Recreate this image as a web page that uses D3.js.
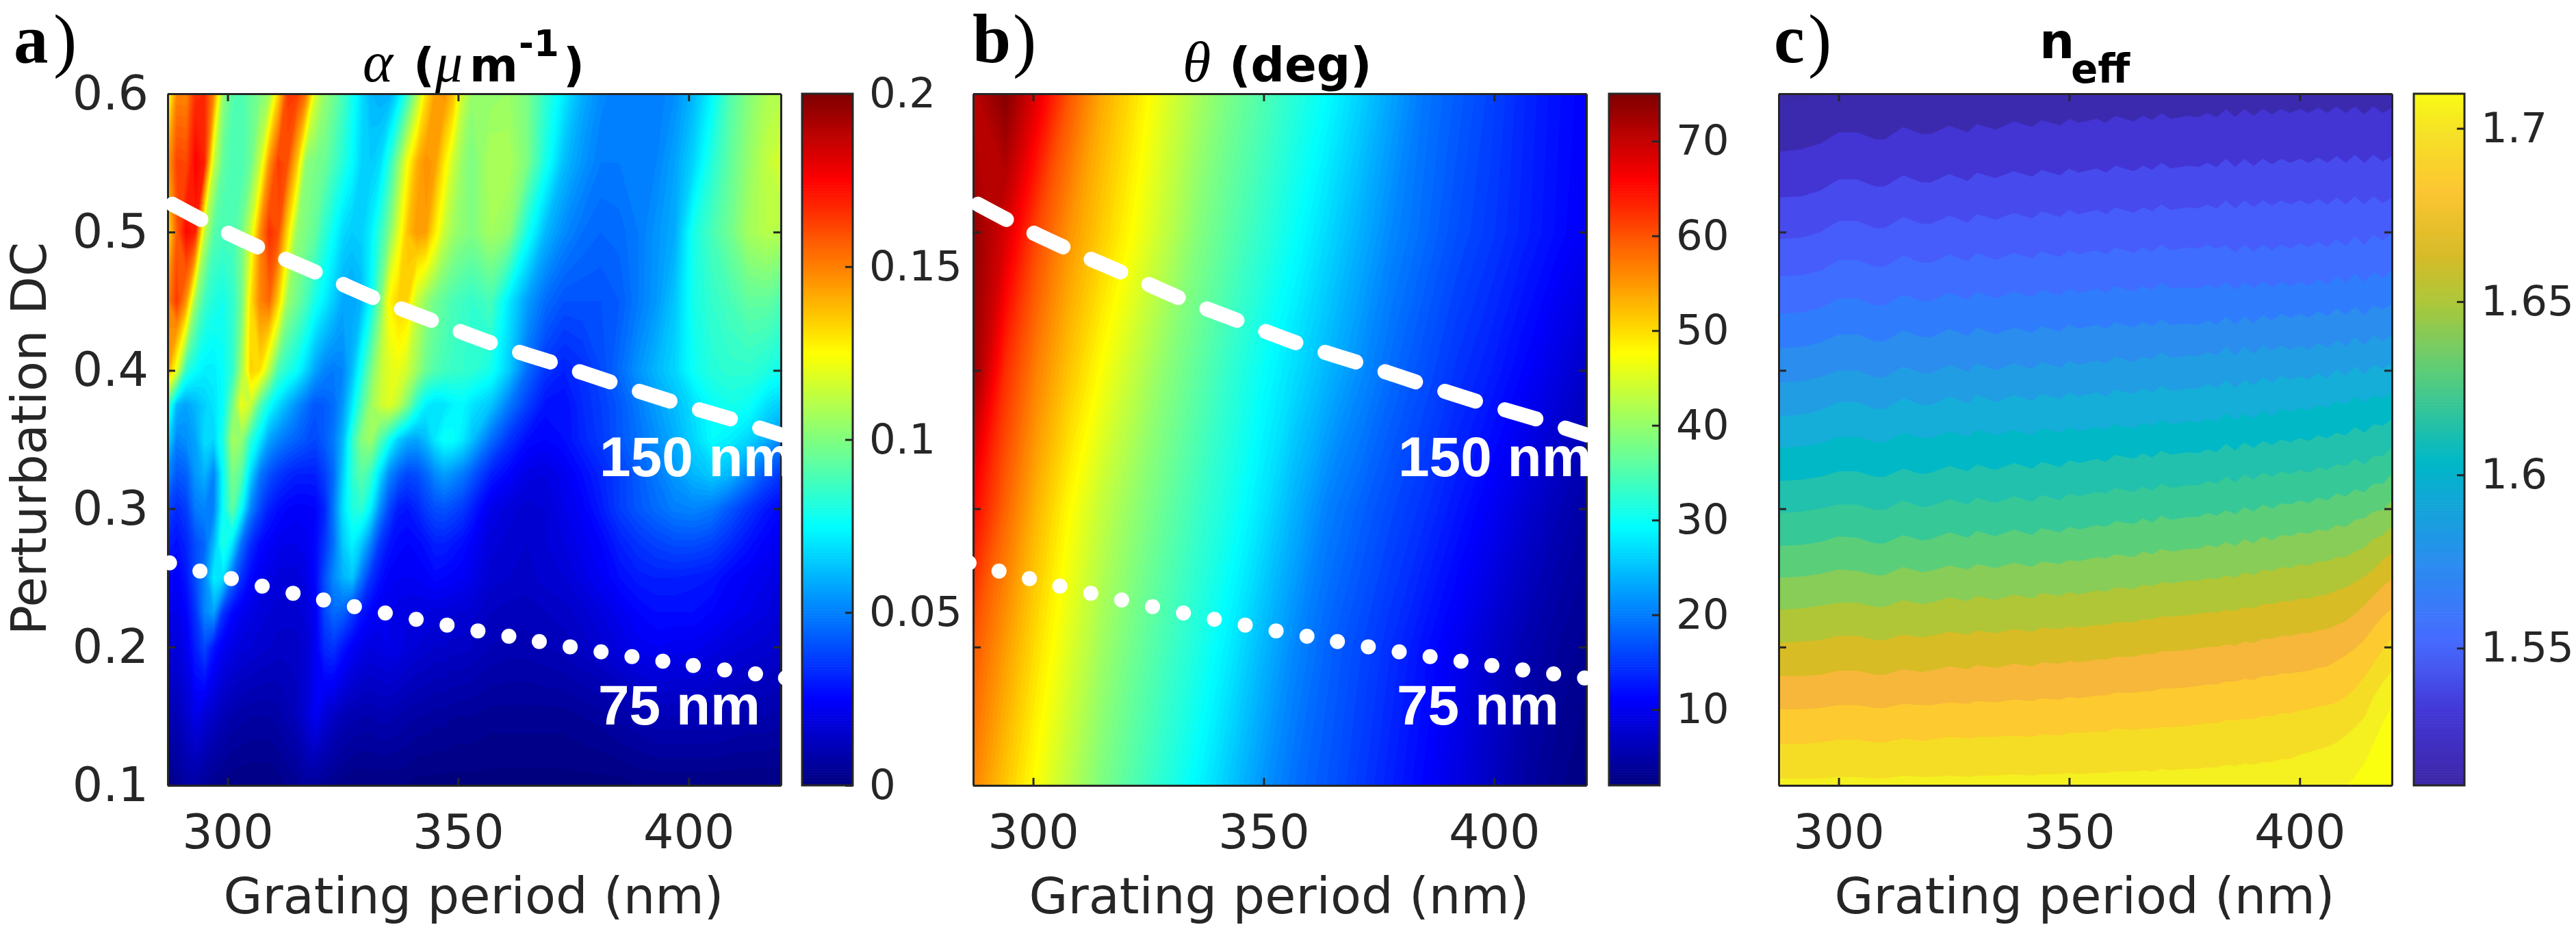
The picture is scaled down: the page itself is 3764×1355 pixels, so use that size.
<!DOCTYPE html>
<html lang="en">
<head>
<meta charset="utf-8">
<title>Grating maps</title>
<script src="https://d3js.org/d3.v7.min.js"></script>
<style>
  body { margin: 0; background: #fff; }
  text { font-family: "DejaVu Sans", sans-serif; fill: #262626; }
</style>
</head>
<body>
<script>
// --- values ---
var xTicks = [300, 350, 400];
var yTicks = [0.1, 0.2, 0.3, 0.4, 0.5, 0.6];
var alphaTicks = [0, 0.05, 0.1, 0.15, 0.2];
var alphaTickLabels = ["0", "0.05", "0.1", "0.15", "0.2"];
var thetaTicks = [10, 20, 30, 40, 50, 60, 70];
var neffTicks = [1.55, 1.6, 1.65, 1.7];
var neffTickLabels = ["1.55", "1.6", "1.65", "1.7"];

// panel a: alpha, one row per DC, columns every 2 nm up to 353 nm then every 4 nm
var alphaPeriods = d3.range(287, 354, 2).concat(d3.range(357, 422, 4));
var alphaDC = [0.6, 0.55, 0.5, 0.45, 0.4, 0.375, 0.35, 0.325, 0.3, 0.275, 0.25, 0.225, 0.2, 0.15, 0.1];
var alphaRows = [
  [.122,.15,.15,.167,.168,.15,.105,.093,.09,.096,.1,.107,.135,.165,.165,.153,.118,.105,.098,.09,.08,.07,.062,.06,.06,.07,.087,.108,.132,.145,.148,.138,.115,.105, .105,.106,.1,.085,.072,.06,.053,.05,.05,.05,.054,.062,.075,.092,.102,.11,.112],
  [.145,.163,.162,.176,.17,.115,.095,.09,.09,.097,.115,.147,.165,.16,.138,.103,.1,.097,.09,.083,.076,.068,.066,.069,.083,.103,.125,.141,.148,.145,.13,.115,.105,.1, .11,.11,.1,.08,.063,.055,.05,.05,.05,.052,.058,.068,.083,.095,.105,.114,.12],
  [.13,.158,.175,.17,.113,.093,.09,.09,.098,.117,.148,.167,.161,.133,.105,.1,.095,.085,.077,.069,.066,.067,.073,.085,.1,.12,.138,.146,.145,.13,.115,.107,.103,.101, .108,.104,.08,.062,.053,.048,.046,.047,.05,.055,.06,.08,.09,.098,.108,.112,.11],
  [.15,.165,.147,.105,.088,.082,.08,.085,.098,.132,.15,.156,.135,.106,.098,.09,.08,.073,.066,.059,.058,.062,.076,.098,.127,.135,.134,.115,.105,.098,.094,.09,.088,.086, .09,.072,.057,.047,.042,.042,.042,.044,.05,.056,.065,.08,.086,.09,.095,.095,.09],
  [.145,.12,.085,.077,.073,.073,.077,.085,.108,.135,.132,.112,.09,.083,.077,.068,.058,.052,.05,.052,.063,.08,.098,.113,.12,.122,.116,.107,.097,.092,.089,.087,.086,.085, .08,.066,.047,.036,.032,.035,.04,.047,.055,.062,.068,.078,.083,.085,.085,.082,.078],
  [.09,.062,.058,.062,.067,.071,.077,.098,.123,.115,.092,.078,.069,.061,.054,.048,.043,.044,.047,.056,.072,.09,.106,.115,.12,.113,.1,.084,.073,.07,.071,.074,.075,.071, .065,.05,.038,.029,.028,.034,.038,.043,.05,.057,.063,.07,.077,.08,.078,.07,.065],
  [.07,.052,.054,.058,.07,.068,.082,.108,.105,.085,.072,.058,.052,.048,.045,.042,.04,.044,.05,.062,.085,.102,.107,.093,.08,.067,.06,.058,.063,.072,.078,.077,.072,.064, .048,.036,.028,.026,.028,.033,.037,.043,.048,.054,.06,.068,.076,.073,.068,.06,.05],
  [.053,.043,.045,.056,.061,.052,.077,.1,.093,.068,.05,.042,.037,.034,.032,.032,.032,.038,.047,.066,.085,.094,.087,.07,.053,.045,.04,.041,.046,.053,.057,.054,.05,.044, .032,.026,.021,.02,.023,.028,.033,.038,.044,.05,.056,.062,.066,.062,.052,.042,.035],
  [.04,.034,.038,.05,.052,.052,.078,.095,.077,.052,.04,.032,.028,.026,.025,.025,.026,.033,.05,.07,.082,.085,.074,.054,.04,.031,.03,.033,.038,.041,.042,.04,.037,.032, .022,.019,.017,.018,.022,.025,.031,.038,.043,.047,.051,.052,.05,.043,.036,.03,.026],
  [.032,.029,.033,.041,.046,.062,.083,.072,.048,.035,.028,.025,.023,.022,.022,.023,.027,.036,.048,.066,.074,.066,.052,.037,.03,.027,.026,.027,.029,.032,.032,.03,.028,.025, .019,.017,.016,.018,.02,.023,.026,.032,.036,.039,.041,.041,.039,.034,.029,.025,.022],
  [.026,.025,.03,.041,.052,.073,.07,.048,.035,.027,.023,.021,.019,.019,.019,.021,.027,.041,.053,.061,.065,.049,.036,.029,.025,.024,.024,.024,.025,.027,.026,.025,.024,.022, .017,.016,.015,.017,.018,.021,.024,.028,.031,.032,.032,.031,.03,.026,.024,.022,.019],
  [.022,.022,.026,.036,.052,.058,.036,.027,.023,.021,.019,.018,.017,.017,.017,.019,.024,.04,.047,.045,.038,.03,.026,.023,.022,.021,.02,.02,.02,.019,.019,.018,.018,.017, .014,.013,.013,.014,.015,.017,.02,.023,.026,.028,.028,.028,.026,.024,.022,.02,.017],
  [.018,.019,.023,.032,.04,.03,.024,.021,.019,.018,.017,.016,.015,.015,.015,.017,.024,.034,.036,.03,.025,.022,.02,.021,.022,.021,.019,.018,.017,.016,.016,.015,.015,.014, .012,.011,.011,.012,.013,.015,.017,.02,.023,.024,.023,.023,.021,.019,.018,.017,.015],
  [.01,.012,.016,.022,.018,.015,.012,.01,.009,.008,.008,.008,.009,.011,.013,.018,.024,.018,.015,.012,.011,.01,.01,.011,.011,.01,.009,.008,.008,.007,.007,.006,.006,.006, .005,.005,.005,.005,.005,.006,.007,.009,.01,.012,.012,.012,.012,.011,.01,.01,.009],
  [.003,.005,.008,.008,.006,.004,.003,.002,.002,.002,.002,.002,.003,.004,.005,.007,.006,.005,.004,.003,.002,.002,.002,.002,.002,.002,.002,.001,.001,.001,.001,.001,.001,.001, .001,.001,.001,.001,.001,.001,.001,.001,.002,.002,.002,.002,.002,.002,.002,.002,.002]
];

// panel b: theta, rows from DC 0.6 down to 0.1, columns every 7 nm from 287 nm
var thetaPeriods = d3.range(287, 421, 7);
var thetaDC = [0.6, 0.5, 0.4, 0.3, 0.2, 0.1];
var thetaRows = [
  [71,75,68,60,54,50,45.5,41.5,38,35.3,32.3,29.6,26.4,23,19.8,18,16.2,14.2,12.5,11.1],
  [74,69,61,55.5,51.5,47.6,43.3,39,35.9,33,30,27,24,21,19,17,15.5,13.8,12.2,10.6],
  [74,63,56.8,52,47.6,43.5,39.5,36.3,33,30,27.2,24.4,21.5,19,17,15,13.5,11.6,9.5,7.5],
  [66,59,53,48,43.5,40,36.8,33.8,31,27.7,24,20.5,18.5,16.5,14.8,12.8,10.8,8.5,6.5,5],
  [60,55,50,45.5,41,37.5,34.5,31.5,28.2,24.5,21,18.5,16.5,14.5,12.4,10.3,8,6,4.5,3.5],
  [56.8,52,47.3,42.8,38.5,35.3,32.2,29,25.5,22,19.3,17.5,15.5,13.4,11.4,9.3,7.2,5,3.5,2.5]
];

// panel c: DC at which each neff contour level sits, per period
var neffPeriods = [287,292,296,300,304,308,310,314,318,320,324,328,330,334,338,342,344,348,350,352,356,358,360,364,366,368,370,372,376,378,380,382,384,386,388,390,392,394,396,398,400,402,404,406,408,410,412,414,416,418,420];
var neffEdges = [
  [.594,.595,.599,.602,.62,.62,.62,.62,.62,.62,.62,.62,.62,.62,.62,.62,.62,.62,.62,.62,.62,.62,.62,.62,.62,.62,.62,.62,.62,.62,.62,.62,.62,.62,.62,.62,.62,.62,.62,.62,.62,.62,.62,.62,.62,.62,.62,.62,.62,.62,.62],
  [.558,.560,.564,.572,.572,.567,.567,.576,.571,.571,.577,.572,.578,.574,.580,.576,.581,.577,.582,.579,.582,.579,.584,.580,.584,.581,.586,.582,.584,.583,.586,.583,.589,.583,.589,.584,.589,.585,.589,.586,.589,.586,.590,.586,.591,.586,.591,.585,.591,.586,.590],
  [.525,.526,.530,.538,.538,.533,.533,.541,.536,.536,.542,.537,.543,.539,.544,.540,.545,.541,.546,.543,.546,.543,.548,.544,.548,.545,.550,.546,.548,.547,.550,.547,.553,.547,.553,.548,.553,.549,.553,.550,.553,.550,.554,.550,.555,.550,.556,.550,.556,.551,.555],
  [.495,.496,.500,.508,.508,.503,.503,.511,.506,.506,.512,.507,.513,.509,.514,.510,.515,.511,.516,.513,.516,.513,.518,.514,.518,.515,.520,.516,.518,.517,.520,.517,.523,.517,.523,.518,.523,.519,.523,.520,.523,.520,.524,.520,.525,.520,.526,.520,.526,.521,.525],
  [.468,.469,.472,.480,.480,.475,.475,.483,.478,.478,.484,.479,.485,.480,.485,.481,.486,.482,.487,.484,.487,.484,.489,.485,.489,.486,.491,.487,.489,.488,.491,.488,.491,.485,.491,.486,.491,.487,.491,.488,.492,.489,.493,.489,.495,.490,.497,.491,.498,.494,.499],
  [.441,.442,.445,.452,.452,.447,.447,.455,.450,.450,.456,.451,.457,.452,.457,.453,.458,.454,.459,.456,.459,.456,.461,.457,.461,.458,.463,.459,.460,.459,.462,.459,.464,.458,.464,.459,.464,.460,.464,.461,.464,.461,.466,.462,.468,.463,.470,.464,.471,.467,.472],
  [.416,.417,.420,.426,.426,.421,.421,.429,.424,.424,.430,.425,.431,.426,.431,.427,.432,.428,.433,.430,.433,.430,.435,.431,.435,.432,.437,.433,.434,.433,.436,.433,.439,.433,.439,.434,.440,.436,.441,.438,.441,.438,.443,.439,.445,.440,.446,.440,.447,.444,.448],
  [.391,.392,.395,.400,.400,.395,.395,.403,.398,.398,.404,.399,.405,.400,.405,.401,.406,.402,.407,.404,.407,.405,.410,.406,.410,.408,.413,.409,.411,.410,.413,.411,.417,.411,.417,.412,.418,.414,.418,.415,.418,.415,.420,.416,.422,.417,.424,.418,.425,.421,.426],
  [.367,.368,.371,.377,.377,.372,.372,.380,.375,.375,.381,.376,.382,.377,.382,.378,.383,.379,.384,.381,.384,.381,.386,.383,.387,.384,.389,.385,.387,.387,.390,.387,.393,.387,.393,.389,.395,.391,.396,.393,.396,.393,.398,.394,.401,.396,.403,.397,.404,.401,.405],
  [.344,.345,.347,.352,.352,.348,.348,.355,.351,.351,.356,.352,.357,.353,.357,.353,.358,.355,.359,.356,.359,.357,.361,.358,.362,.360,.364,.361,.363,.362,.365,.363,.369,.364,.369,.365,.371,.367,.372,.370,.373,.371,.375,.373,.378,.375,.381,.377,.382,.380,.384],
  [.320,.321,.323,.327,.327,.323,.323,.329,.325,.326,.331,.327,.332,.328,.333,.329,.334,.330,.335,.333,.336,.334,.339,.336,.340,.337,.342,.339,.341,.340,.343,.341,.347,.342,.348,.344,.349,.346,.350,.348,.351,.349,.353,.351,.355,.353,.359,.355,.361,.360,.365],
  [.297,.298,.300,.303,.303,.299,.299,.306,.301,.302,.307,.303,.308,.304,.309,.305,.310,.306,.311,.309,.312,.311,.315,.312,.316,.313,.318,.315,.317,.317,.320,.318,.323,.319,.325,.321,.326,.323,.327,.325,.328,.326,.330,.328,.332,.331,.336,.332,.338,.338,.344],
  [.273,.274,.276,.280,.279,.275,.275,.281,.277,.278,.283,.279,.284,.280,.285,.281,.286,.283,.287,.285,.288,.287,.291,.289,.293,.290,.295,.292,.294,.294,.297,.295,.299,.296,.301,.298,.303,.300,.304,.303,.306,.304,.308,.306,.311,.309,.314,.312,.318,.318,.325],
  [.250,.251,.253,.256,.255,.252,.252,.258,.254,.255,.259,.256,.260,.257,.261,.258,.262,.260,.263,.262,.265,.264,.267,.265,.269,.267,.271,.269,.271,.271,.274,.272,.276,.273,.278,.275,.280,.277,.281,.280,.283,.282,.285,.284,.288,.287,.292,.293,.298,.299,.306],
  [.227,.228,.230,.232,.232,.229,.229,.234,.231,.232,.236,.233,.237,.234,.238,.235,.239,.237,.240,.238,.241,.240,.243,.242,.245,.244,.247,.246,.248,.248,.250,.249,.252,.250,.254,.252,.256,.255,.258,.257,.260,.259,.262,.262,.265,.265,.269,.272,.278,.281,.287],
  [.203,.204,.205,.208,.208,.205,.205,.209,.207,.208,.211,.209,.212,.210,.213,.211,.214,.213,.215,.214,.216,.216,.218,.218,.220,.220,.222,.222,.223,.224,.225,.225,.227,.226,.229,.228,.231,.231,.233,.233,.235,.235,.237,.238,.241,.243,.247,.251,.256,.263,.268],
  [.179,.179,.180,.183,.183,.180,.180,.184,.182,.183,.186,.184,.187,.185,.188,.186,.189,.188,.190,.189,.191,.191,.193,.193,.195,.195,.197,.197,.198,.199,.200,.200,.202,.201,.204,.203,.206,.206,.208,.208,.210,.210,.212,.213,.216,.219,.224,.230,.237,.244,.249],
  [.155,.155,.156,.158,.158,.156,.156,.159,.158,.158,.160,.159,.161,.160,.162,.161,.163,.162,.164,.163,.165,.165,.167,.167,.168,.168,.170,.170,.171,.172,.173,.173,.175,.175,.177,.176,.179,.179,.181,.181,.182,.183,.185,.186,.190,.194,.199,.205,.214,.222,.228],
  [.130,.130,.131,.133,.133,.131,.131,.134,.132,.133,.135,.134,.135,.135,.136,.135,.137,.136,.138,.138,.139,.139,.141,.140,.141,.141,.142,.142,.143,.144,.145,.145,.147,.147,.148,.148,.150,.150,.152,.152,.154,.155,.157,.158,.160,.164,.170,.178,.188,.198,.207],
  [.105,.105,.105,.106,.106,.105,.105,.107,.106,.106,.107,.106,.107,.107,.108,.107,.108,.108,.109,.108,.109,.109,.110,.110,.111,.110,.112,.111,.112,.112,.113,.113,.115,.114,.116,.115,.117,.117,.119,.119,.122,.124,.126,.128,.131,.136,.142,.149,.164,.174,.183],
  [.06,.06,.06,.06,.06,.06,.06,.06,.06,.06,.06,.06,.06,.06,.06,.06,.06,.06,.06,.06,.06,.06,.06,.06,.06,.06,.06,.06,.06,.06,.06,.06,.06,.06,.06,.06,.06,.06,.06,.06,.06,.06,.06,.06,.09,.100,.106,.116,.130,.145,.158]
];

// white width curves
var dashPeriods = [287,294.3,307,319.8,332,344.6,357.7,370.7,383.8,396.8,409.5,420];
var dashDC = [.522,.509,.4885,.47,.452,.4357,.4192,.4053,.3908,.377,.3645,.3534];
var dotsPeriodA = [287.4,294,300.8,307.5,314.2,320.8,327.5,334.2,340.9,347.6,354.3,361,367.6,374.3,381,387.7,394.4,401,407.8,414.5,421];
var dotsPeriodB = [286.1,292.6,299.2,305.8,312.5,319.2,325.9,332.6,339.3,346,352.7,359.4,366,372.7,379.4,386.1,392.8,399.5,406.2,412.9,419.6];
var dotsDC = [.2609,.2549,.2495,.244,.2389,.234,.2292,.2246,.2201,.2159,.2117,.2078,.204,.2002,.1966,.1931,.1898,.1867,.1835,.1806,.1776];

// --- colours ---
var jet = d3.scaleLinear()
  .domain([0, 0.125, 0.375, 0.625, 0.875, 1])
  .range(["#00007f", "#0000ff", "#00ffff", "#ffff00", "#ff0000", "#7f0000"])
  .clamp(true);
var parula = d3.scaleLinear()
  .domain([0, 0.11, 0.21, 0.32, 0.47, 0.6, 0.7, 0.77, 0.86, 0.95, 1])
  .range(["#3d26a6", "#4338d8", "#466bff", "#2b8cf0", "#00b8c6", "#5cce78", "#adc738", "#d8bb28", "#fcc632", "#f6e325", "#f9fb15"]);
var neffBandColors = ["#3c2aae", "#4334d4", "#474aec", "#465cfb", "#3f6dff", "#2f7dfd", "#2b8ded", "#219ee3", "#15aed8", "#00b8c6", "#22c1ae", "#37c897", "#5bce7a", "#87cd58", "#b0c636", "#d7bc25", "#f6b73a", "#fdca2f", "#f6dd25", "#f5f01f", "#faff10"];

// --- layout ---
var w = 3764, h = 1355;
var plotTop = 137, plotBottom = 1148, plotW = 896;
var panels = [
  { left: 245, barLeft: 1172 },
  { left: 1422, barLeft: 2351 },
  { left: 2599, barLeft: 3527 }
];
var barW = 74;
var ink = "#262626";

var svg = d3.select("body").append("svg").attr("width", w).attr("height", h);

var y = d3.scaleLinear().domain([0.1, 0.6]).range([plotBottom, plotTop]);

panels.forEach(function(p, i) {
  p.x = d3.scaleLinear().domain([287, 420]).range([p.left, p.left + plotW]);
  p.g = svg.append("g");
  svg.append("clipPath").attr("id", "clip" + i).append("rect")
    .attr("x", p.left).attr("y", plotTop).attr("width", plotW).attr("height", plotBottom - plotTop);
  p.field = p.g.append("g").attr("clip-path", "url(#clip" + i + ")");
});

// filled contours from a grid, painted from low to high. the grid need not be even,
// the contour coordinates go through index -> value scales
function drawField(p, periods, dcs, rows, levels, color) {
  var n = periods.length, m = dcs.length;
  var colToPeriod = d3.scaleLinear().domain(d3.range(n)).range(periods);
  var rowToDC = d3.scaleLinear().domain(d3.range(m)).range(dcs);
  var project = d3.geoTransform({
    point: function(cx, cy) {
      this.stream.point(p.x(colToPeriod(cx - 0.5)), y(rowToDC(cy - 0.5)));
    }
  });
  var path = d3.geoPath(project);
  var flat = d3.merge(rows);
  p.field.append("rect")
    .attr("x", p.left).attr("y", plotTop).attr("width", plotW).attr("height", plotBottom - plotTop)
    .attr("fill", color(levels[0]));
  p.field.selectAll("path.band")
    .data(d3.contours().size([n, m]).thresholds(levels)(flat))
    .enter().append("path")
    .attr("class", "band")
    .attr("d", path)
    .attr("fill", function(d) { return color(d.value); });
}

drawField(panels[0], alphaPeriods, alphaDC, alphaRows, d3.range(0, 0.2, 0.002), function(v) { return jet(v / 0.2); });
drawField(panels[1], thetaPeriods, thetaDC, thetaRows, d3.range(2, 75, 0.6), function(v) { return jet((v - 2) / 73); });

// panel c: one filled area per contour level
panels[2].field.append("rect")
  .attr("x", panels[2].left).attr("y", plotTop).attr("width", plotW).attr("height", plotBottom - plotTop)
  .attr("fill", "#3a2aa6");
neffEdges.forEach(function(edge, k) {
  var area = d3.area()
    .x(function(d, j) { return panels[2].x(neffPeriods[j]); })
    .y0(plotBottom + 5)
    .y1(function(d) { return y(d); });
  panels[2].field.append("path").attr("d", area(edge)).attr("fill", neffBandColors[k]);
});

// axes
function styleAxis(g) {
  g.selectAll(".domain").attr("stroke", ink).attr("stroke-width", 3);
  g.selectAll(".tick line").attr("stroke", ink).attr("stroke-width", 3);
  g.selectAll("text").attr("fill", ink);
}

panels.forEach(function(p, i) {
  p.g.append("g").attr("transform", "translate(0," + plotBottom + ")")
    .call(d3.axisBottom(p.x).tickValues(xTicks).tickSizeOuter(0).tickSizeInner(-11).tickPadding(42).tickFormat(d3.format("d")))
    .call(styleAxis)
    .selectAll("text").style("font-size", "70px");
  p.g.append("g").attr("transform", "translate(0," + plotTop + ")")
    .call(d3.axisTop(p.x).tickValues(xTicks).tickSizeOuter(0).tickSizeInner(-11).tickFormat(""))
    .call(styleAxis);
  var left = p.g.append("g").attr("transform", "translate(" + p.left + ",0)")
    .call(d3.axisLeft(y).tickValues(yTicks).tickSizeOuter(0).tickSizeInner(-11).tickPadding(28).tickFormat(i === 0 ? d3.format(".1f") : ""))
    .call(styleAxis);
  left.selectAll("text").style("font-size", "70px");
  p.g.append("g").attr("transform", "translate(" + (p.left + plotW) + ",0)")
    .call(d3.axisRight(y).tickValues(yTicks).tickSizeOuter(0).tickSizeInner(-11).tickFormat(""))
    .call(styleAxis);
  p.g.append("text").attr("x", p.left + plotW / 2 - 1).attr("y", 1335)
    .attr("text-anchor", "middle").style("font-size", "73.5px").text("Grating period (nm)");
});

svg.append("text")
  .attr("transform", "translate(67,641) rotate(-90)")
  .attr("text-anchor", "middle").style("font-size", "72px").text("Perturbation DC");

// colour bars
function drawBar(p, domain, color, ticks, labels) {
  var s = d3.scaleLinear().domain(domain).range([plotBottom, plotTop]);
  var steps = d3.range(0, 256);
  var stepH = (plotBottom - plotTop) / 256;
  svg.append("g").selectAll("rect").data(steps).enter().append("rect")
    .attr("x", p.barLeft)
    .attr("y", function(d) { return s(domain[0] + (domain[1] - domain[0]) * (d + 1) / 256); })
    .attr("width", barW)
    .attr("height", stepH + 0.6)
    .attr("fill", function(d) { return color((d + 0.5) / 256); });
  svg.append("rect").attr("x", p.barLeft).attr("y", plotTop).attr("width", barW).attr("height", plotBottom - plotTop)
    .attr("fill", "none").attr("stroke", ink).attr("stroke-width", 3);
  var axis = svg.append("g").attr("transform", "translate(" + (p.barLeft + barW) + ",0)")
    .call(d3.axisRight(s).tickValues(ticks).tickSizeOuter(0).tickSizeInner(-11).tickPadding(24)
      .tickFormat(function(d, i) { return labels[i]; }))
    .call(styleAxis);
  axis.select(".domain").remove();
  axis.selectAll("text").style("font-size", "61px");
}

drawBar(panels[0], [0, 0.2], jet, alphaTicks, alphaTickLabels);
drawBar(panels[1], [2, 75], jet, thetaTicks, thetaTicks.map(String));
drawBar(panels[2], [1.5104, 1.71], parula, neffTicks, neffTickLabels);

// white curves and labels, over the axes
[panels[0], panels[1]].forEach(function(p, i) {
  var line = d3.line()
    .x(function(d, j) { return p.x(dashPeriods[j]); })
    .y(function(d) { return y(d); })
    .curve(d3.curveMonotoneX);
  svg.append("path").attr("d", line(dashDC))
    .attr("fill", "none").attr("stroke", "#fff").attr("stroke-width", 22)
    .attr("stroke-linecap", "round")
    .attr("stroke-dasharray", "47 45").attr("stroke-dashoffset", 84);
  var dotsX = i === 0 ? dotsPeriodA : dotsPeriodB;
  svg.append("g").selectAll("circle").data(dotsDC).enter().append("circle")
    .attr("cx", function(d, j) { return p.x(dotsX[j]); })
    .attr("cy", function(d) { return y(d); })
    .attr("r", 11).attr("fill", "#fff");
  var lx = i === 0 ? 876 : 2043;
  svg.append("text").attr("x", lx).attr("y", 696).style("fill", "#fff")
    .style("font-family", "'Liberation Sans', sans-serif").style("font-weight", "bold").style("font-size", "82px").text("150 nm");
  svg.append("text").attr("x", lx - 2).attr("y", 1059).style("fill", "#fff")
    .style("font-family", "'Liberation Sans', sans-serif").style("font-weight", "bold").style("font-size", "82px").text("75 nm");
});

// titles
function mathTitle(x, glyph, size) {
  return svg.append("text").attr("x", x).attr("y", 119)
    .style("font-family", "'Liberation Serif', serif").style("font-style", "italic")
    .style("font-size", size + "px").style("fill", "#000").text(glyph);
}
function boldText(x, yy, str, size) {
  return svg.append("text").attr("x", x).attr("y", yy)
    .style("font-weight", "bold").style("font-size", size + "px").style("fill", "#000").text(str);
}
mathTitle(530, "\u03b1", 84);
boldText(604, 119, "(", 68);
mathTitle(636, "\u03bc", 80);
boldText(686, 119, "m", 68);
boldText(758, 82, "-1", 53);
boldText(823, 119, ")", 68);
mathTitle(1728, "\u03b8", 84);
boldText(1796, 119, "(deg)", 69);
boldText(2980, 85, "n", 72);
boldText(3026, 121, "eff", 58);

// panel letters
function panelLetter(x, letter, parenX) {
  svg.append("text").attr("x", x).attr("y", 91)
    .style("font-family", "'Liberation Serif', serif").style("font-weight", "bold").style("font-size", "101px").style("fill", "#000").text(letter);
  svg.append("text").attr("x", parenX).attr("y", 93)
    .style("font-family", "'Liberation Serif', serif").style("font-size", "103px").style("fill", "#000").text(")");
}
panelLetter(20, "a", 78);
panelLetter(1421, "b", 1480);
panelLetter(2592, "c", 2642);
</script>
</body>
</html>
